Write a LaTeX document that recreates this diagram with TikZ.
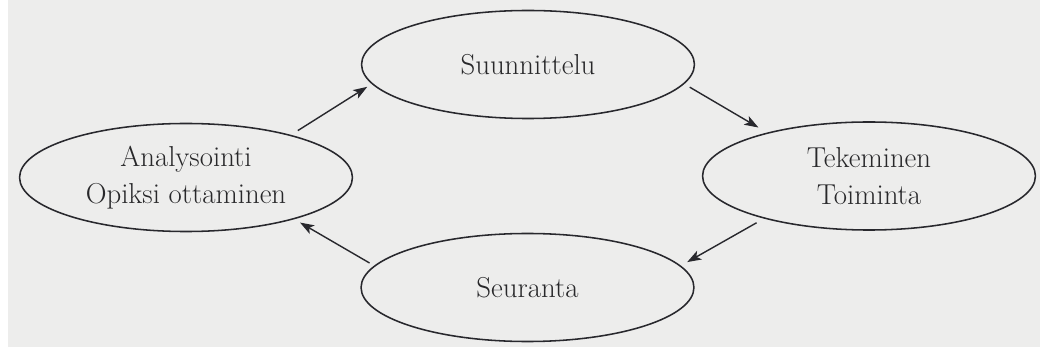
\documentclass[tikz,border=0pt]{standalone}
\usetikzlibrary{shapes.geometric,arrows.meta}
\definecolor{paper}{RGB}{237,237,236}
\definecolor{ink}{RGB}{40,40,45}
\definecolor{txt}{RGB}{40,40,42}
\tikzset{
  phase/.style={ellipse, draw=ink, line width=1.1pt, inner sep=0pt, outer sep=0pt,
    minimum width=8.32cm, minimum height=2.7cm, text=txt, align=center,
    font=\fontsize{20.5}{26.3}\selectfont},
  flow/.style={draw=ink, line width=1pt, -{Stealth[length=10pt,width=7pt,inset=2.5pt]}}
}
\begin{document}
\begin{tikzpicture}[x=0.025cm, y=-0.025cm]
  \useasboundingbox (0,0) rectangle (1040,347);
  \fill[paper] (0,0) rectangle (1040,347);
  \fill[white] (0,0) rectangle (8,347);
  \node[phase] (sun) at (528,64.5) {Suunnittelu};
  \node[phase] (ana) at (186,177.5) {Analysointi\\Opiksi ottaminen};
  \node[phase] (tek) at (869,176) {Tekeminen\\Toiminta};
  \node[phase] (seu) at (527.5,287.5) {Seuranta};
  \draw[flow, shorten <=0.225cm, shorten >=0.15cm] (ana.22) -- (sun.187);
  \draw[flow, shorten <=0.175cm, shorten >=0.275cm] (sun.-7) -- (tek.157);
  \draw[flow, shorten <=0.235cm, shorten >=0.2cm] (tek.-158) -- (seu.8);
  \draw[flow, shorten <=0.15cm, shorten >=0.19cm] (seu.172) -- (ana.-21);
\end{tikzpicture}
\end{document}
